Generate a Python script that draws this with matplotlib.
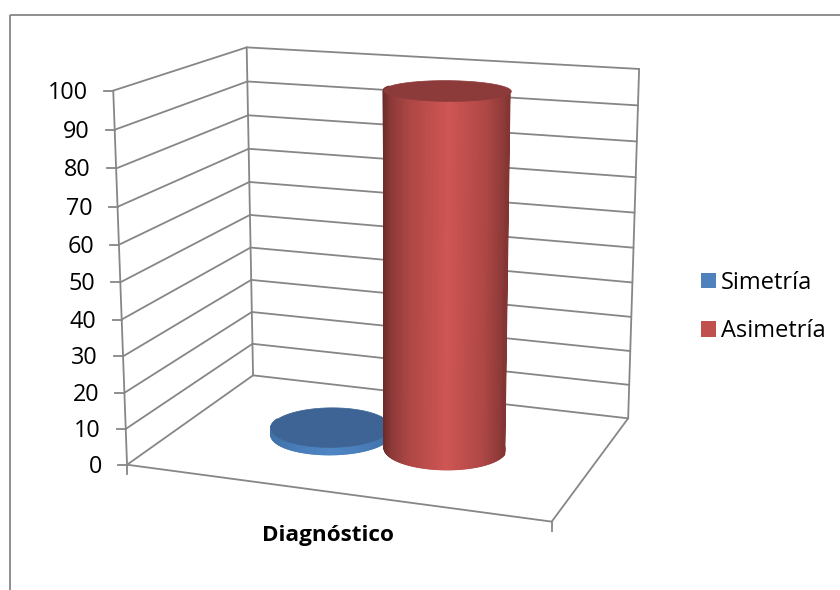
import numpy as np
import matplotlib
matplotlib.use("Agg")
import matplotlib.pyplot as plt
from matplotlib.collections import PolyCollection
from matplotlib.colors import LinearSegmentedColormap
from matplotlib.patches import Patch, Polygon, Rectangle

plt.rcParams['font.family'] = ['Open Sans', 'DejaVu Sans']

# datos del grafico
category = 'Diagnóstico'
series_names = ['Simetría', 'Asimetría']
series_values = [2, 98]
tick_values = [0, 10, 20, 30, 40, 50, 60, 70, 80, 90, 100]

GRID = '#868686'
legend_colors = ['#4f81bd', '#c0504d']
top_colors = ['#3d6494', '#8d3b3a']
side_colors = [
    ['#4072a8', '#4a7ebb', '#4f85c4', '#4a7ebb', '#4072a8'],
    ['#6b2b2a', '#8c3a38', '#ad4745', '#cf5654', '#ad4745', '#8c3a38', '#6f2c2b'],
]
side_stops = [
    [0, 0.25, 0.5, 0.75, 1],
    [0, 0.06, 0.2, 0.5, 0.8, 0.94, 1],
]

# posicion de los cilindros dentro de la caja (x, profundidad, radios)
centers_x = [0.359, 0.646]
center_d = 0.5
radius_x = 0.142
radius_d = 0.2

# esquinas de la caja 3D -> pixeles, para ajustar la proyeccion
box_3d = [(0, 0, 0), (0, 1, 0), (1, 1, 0), (1, 0, 0), (0, 0, 100), (0, 1, 100), (1, 1, 100)]
box_px = [(127, 464), (253, 376), (628, 418), (552, 522), (113, 91), (247, 47), (639, 69)]


def fit_projection(pts3, pts2):
    rows, rhs = [], []
    for (x, d, z), (u, v) in zip(pts3, pts2):
        z = z / 100
        rows.append([x, d, z, 1, 0, 0, 0, 0, -u * x, -u * d, -u * z])
        rhs.append(u)
        rows.append([0, 0, 0, 0, x, d, z, 1, -v * x, -v * d, -v * z])
        rhs.append(v)
    sol = np.linalg.lstsq(np.array(rows, float), np.array(rhs, float), rcond=None)[0]
    return np.append(sol, 1).reshape(3, 4)


P = fit_projection(box_3d, box_px)


def project(x, d, z):
    x, d, z = np.broadcast_arrays(x, d, np.asarray(z, float) / 100)
    h = np.stack([x, d, z, np.ones_like(x, dtype=float)])
    q = P @ h
    return q[0] / q[2], q[1] / q[2]


def line3d(ax, a, b, **kw):
    u, v = project(np.array([a[0], b[0]]), np.array([a[1], b[1]]), np.array([a[2], b[2]]))
    ax.plot(u, v, color=GRID, lw=1.3, solid_capstyle='round', **kw)


def cylinder(ax, cx, value, side, stops, top, z):
    t = np.linspace(0, 2 * np.pi, 241)
    xs = cx + radius_x * np.cos(t)
    ds = center_d + radius_d * np.sin(t)
    u0, v0 = project(xs, ds, 0 * t)
    u1, v1 = project(xs, ds, value + 0 * t)
    umin, umax = min(u0.min(), u1.min()), max(u0.max(), u1.max())
    cmap = LinearSegmentedColormap.from_list('side', list(zip(stops, side)))

    quads, colors = [], []
    for i in range(len(t) - 1):
        # solo la mitad delantera del cilindro
        if np.sin((t[i] + t[i + 1]) / 2) > 0.05:
            continue
        quads.append([(u0[i], v0[i]), (u0[i + 1], v0[i + 1]), (u1[i + 1], v1[i + 1]), (u1[i], v1[i])])
        colors.append(cmap(((u0[i] + u1[i]) / 2 - umin) / (umax - umin)))
    ax.add_patch(Polygon(np.column_stack([u0, v0]), closed=True, fc=side[len(side) // 2], ec='none', zorder=z))
    ax.add_collection(PolyCollection(quads, facecolors=colors, edgecolors=colors, linewidths=1.4, zorder=z + 0.1))
    ax.add_patch(Polygon(np.column_stack([u1, v1]), closed=True, fc=top, ec=top, lw=0.5, zorder=z + 0.2))


fig = plt.figure(figsize=(8.4, 5.9), dpi=100)
ax = fig.add_axes([0, 0, 1, 1])
ax.set_xlim(0, 840)
ax.set_ylim(590, 0)
ax.axis('off')

# borde del grafico
ax.add_patch(Rectangle((9.5, 14.5), 840, 600, fill=False, ec=GRID, lw=1.3))

# paredes y rejilla
for v in tick_values:
    line3d(ax, (0, 0, v), (0, 1, v))
    line3d(ax, (0, 1, v), (1, 1, v))
    u, w = project(0, 0, v)
    ax.plot([u - 9, u], [w, w], color=GRID, lw=1.3)
    ax.text(u - 25, w + 2, str(v), ha='right', va='center', fontsize=16.8, color='black')

line3d(ax, (0, 0, 0), (0, 0, 100))
line3d(ax, (0, 1, 0), (0, 1, 100))
line3d(ax, (1, 1, 0), (1, 1, 100))
line3d(ax, (0, 0, 0), (1, 0, 0))
line3d(ax, (1, 0, 0), (1, 1, 0))

for x in [0, 1]:
    u, w = project(x, 0, 0)
    ax.plot([u, u], [w, w + 9], color=GRID, lw=1.3)

for i in range(len(series_values)):
    cylinder(ax, centers_x[i], series_values[i], side_colors[i], side_stops[i], top_colors[i], 3 + i)

ax.text(328, 536, category, ha='center', va='center', fontsize=16.2, fontweight='bold', color='black')

handles = [Patch(fc=c, ec='none') for c in legend_colors]
ax.legend(handles, series_names, loc='center left', bbox_to_anchor=(701, 307),
          bbox_transform=ax.transData, frameon=False, fontsize=17,
          handlelength=0.635, handleheight=0.635, handletextpad=0.2,
          labelspacing=1.05, borderpad=0, borderaxespad=0)

fig.savefig('out.png', dpi=100)
